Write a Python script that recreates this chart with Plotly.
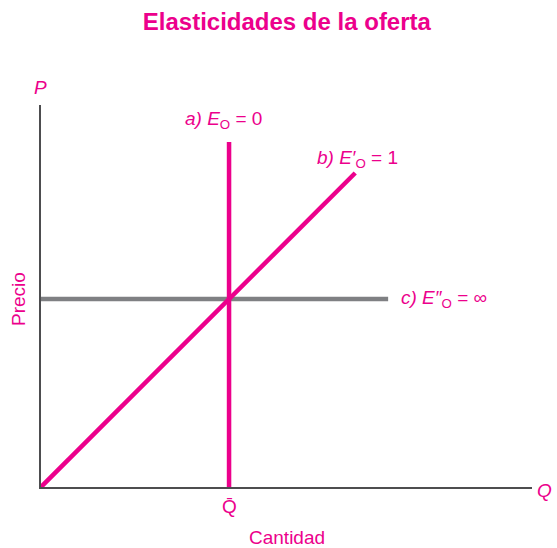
import plotly.graph_objects as go

# Datos (unidades arbitrarias del diagrama)
q_barra = 3.83
p_equilibrio = 4.92
# a) oferta perfectamente inelástica
oferta_a_x = [q_barra, q_barra]
oferta_a_y = [0, 9.03]
# b) elasticidad unitaria (recta desde el origen)
oferta_b_x = [0, 6.4]
oferta_b_y = [0, 8.22]
# c) oferta perfectamente elástica
oferta_c_x = [0, 7.07]
oferta_c_y = [p_equilibrio, p_equilibrio]

MAGENTA = '#EC008C'
GRIS = '#7f8083'
FUENTE = 'Liberation Sans'

fig = go.Figure()

fig.add_trace(go.Scatter(x=oferta_c_x, y=oferta_c_y, mode='lines',
                         line=dict(color=GRIS, width=4.5), cliponaxis=False))
fig.add_trace(go.Scatter(x=oferta_b_x, y=oferta_b_y, mode='lines',
                         line=dict(color=MAGENTA, width=4.5), cliponaxis=False))
fig.add_trace(go.Scatter(x=oferta_a_x, y=oferta_a_y, mode='lines',
                         line=dict(color=MAGENTA, width=4.5), cliponaxis=False))

fig.update_layout(
    width=557, height=548,
    margin=dict(l=41, r=25, t=105, b=61),
    plot_bgcolor='white', paper_bgcolor='white',
    showlegend=False,
    font=dict(family=FUENTE, color=MAGENTA, size=19),
    title=dict(text='<b>Elasticidades de la oferta</b>', x=0.515, xanchor='center',
               y=0.96, yanchor='middle',
               font=dict(size=24, color=MAGENTA, family=FUENTE)),
    xaxis=dict(range=[0, 10], showgrid=False, zeroline=False, showticklabels=False,
               showline=True, linecolor='#4d4d4f', linewidth=1.5, ticks=''),
    yaxis=dict(range=[0, 10], showgrid=False, zeroline=False, showticklabels=False,
               showline=True, linecolor='#4d4d4f', linewidth=1.5, ticks=''),
)

# etiquetas de las curvas (dentro del área)
dentro = [
    dict(x=q_barra - 0.12, y=9.6, text='<i>a) E</i><sub>O</sub> = 0', xanchor='center'),
    dict(x=6.45, y=8.58, text='<i>b) E′</i><sub>O</sub> = 1', xanchor='center'),
    dict(x=7.3, y=p_equilibrio, text='<i>c) E″</i><sub>O</sub> = ∞', xanchor='left'),
]
for a in dentro:
    fig.add_annotation(xref='x', yref='y', showarrow=False, yanchor='middle',
                       font=dict(size=19, color=MAGENTA, family=FUENTE), **a)

# etiquetas de los ejes (fuera del área, coordenadas de papel)
fuera = [
    dict(x=q_barra / 10, y=-0.05, text='Q\u0304', textangle=0),
    dict(x=-0.002, y=1.045, text='<i>P</i>', textangle=0),
    dict(x=1.026, y=-0.008, text='<i>Q</i>', textangle=0),
    dict(x=0.50, y=-0.131, text='Cantidad', textangle=0),
    dict(x=-0.047, y=p_equilibrio / 10, text='Precio', textangle=-90),
]
for a in fuera:
    fig.add_annotation(xref='paper', yref='paper', showarrow=False,
                       xanchor='center', yanchor='middle',
                       font=dict(size=19, color=MAGENTA, family=FUENTE), **a)

# quitar el margen del body para que la figura ocupe la ventana justa
fig.write_html('out.html', config={'displayModeBar': False},
               post_script="document.body.style.margin='0';")
